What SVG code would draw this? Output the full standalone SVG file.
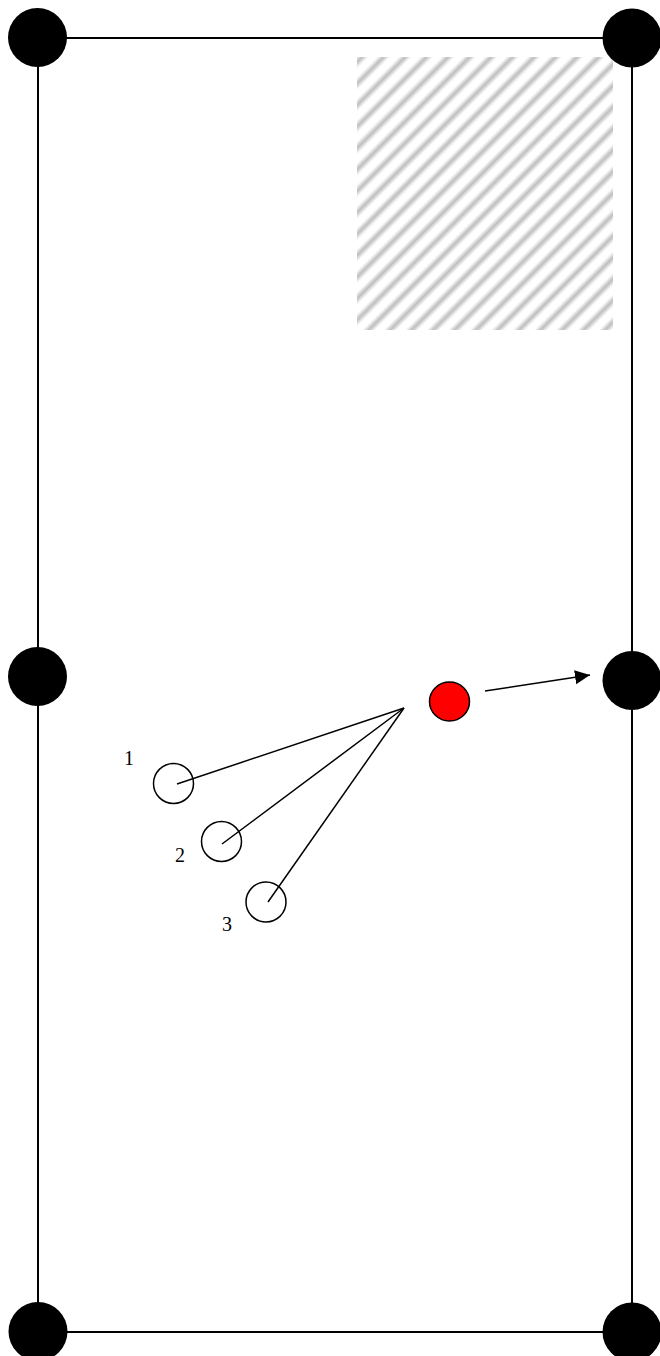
<svg xmlns="http://www.w3.org/2000/svg" width="660" height="1356" viewBox="0 0 660 1356">
<style>
.frame{fill:none;stroke:#000;stroke-width:2}
.post{fill:#000}
.player{fill:#fff;stroke:#000;stroke-width:1.5}
.ball{fill:#ff0000;stroke:#000;stroke-width:1.5}
.conn{stroke:#000;stroke-width:1.5;fill:none}
.lbl{font-family:"Liberation Serif","Times New Roman",serif;font-size:20px;fill:#000}
</style>
<defs>
<linearGradient id="stripeGrad" x1="0" y1="0" x2="0" y2="1">
<stop offset="0" stop-color="#fff"/>
<stop offset="0.2" stop-color="#fff"/>
<stop offset="0.5" stop-color="#bcbcbc"/>
<stop offset="0.8" stop-color="#fff"/>
<stop offset="1" stop-color="#fff"/>
</linearGradient>
<pattern id="hatch" patternUnits="userSpaceOnUse" width="15.2" height="15.2" patternTransform="rotate(-45)">
<rect x="0" y="0" width="15.2" height="15.2" fill="url(#stripeGrad)"/>
</pattern>
<marker id="arrow" markerUnits="userSpaceOnUse" markerWidth="16" markerHeight="16" refX="15" refY="7" orient="auto">
<polygon points="0,0 15,7 0,14" fill="#000"/>
</marker>
</defs>

<g id="field">
<rect class="frame" x="38" y="38" width="594" height="1294"/>
</g>

<g id="zone">
<rect x="357" y="57" width="256" height="273" fill="url(#hatch)"/>
</g>

<g id="post-top-left"><circle class="post" cx="37.5" cy="37.5" r="29.5"/></g>
<g id="post-top-right"><circle class="post" cx="632" cy="38" r="29.5"/></g>
<g id="post-mid-left"><circle class="post" cx="37.5" cy="676.5" r="29.5"/></g>
<g id="post-mid-right"><circle class="post" cx="632" cy="680.5" r="29.5"/></g>
<g id="post-bottom-left"><circle class="post" cx="38" cy="1331.5" r="29.5"/></g>
<g id="post-bottom-right"><circle class="post" cx="632" cy="1332" r="29.5"/></g>

<g id="ball"><ellipse class="ball" cx="449.5" cy="701.5" rx="20" ry="19.5"/></g>

<g id="player-1">
<circle class="player" cx="173.5" cy="783.5" r="20"/>
<text class="lbl" x="129" y="765" text-anchor="middle">1</text>
</g>
<g id="player-2">
<circle class="player" cx="221.5" cy="841.5" r="20"/>
<text class="lbl" x="180" y="862" text-anchor="middle">2</text>
</g>
<g id="player-3">
<circle class="player" cx="266" cy="902" r="20"/>
<text class="lbl" x="227" y="931" text-anchor="middle">3</text>
</g>

<g id="connectors">
<line class="conn" x1="404" y1="708" x2="177" y2="784"/>
<line class="conn" x1="404" y1="708" x2="222" y2="844"/>
<line class="conn" x1="404" y1="708" x2="268" y2="902"/>
<line class="conn" stroke-width="2.2" x1="485" y1="691" x2="590" y2="675" marker-end="url(#arrow)"/>
</g>
</svg>
